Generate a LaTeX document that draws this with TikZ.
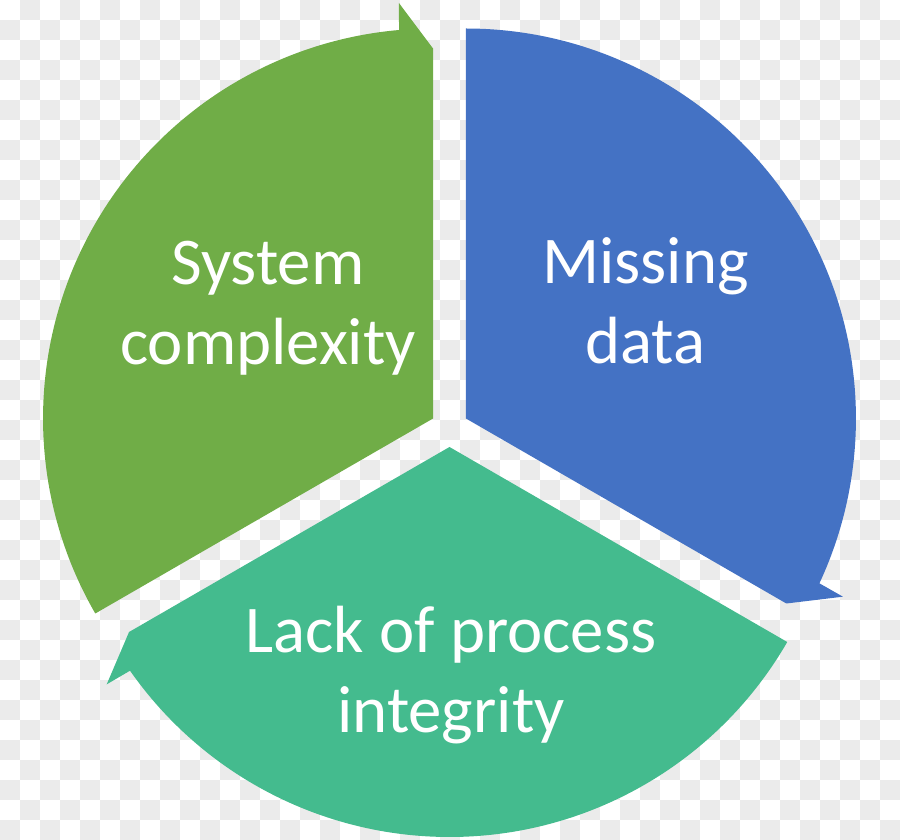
\documentclass[tikz,border=0pt]{standalone}
\usepackage{fontspec}
\setmainfont{Carlito}
\definecolor{cgreen}{HTML}{70AD47}
\definecolor{cblue}{HTML}{4472C4}
\definecolor{cteal}{HTML}{44BB8E}
\definecolor{cchk}{HTML}{EBEBEB}
\tikzset{
  label/.style={text=white, align=center, font=\fontsize{19}{22.8}\selectfont}
}
\begin{document}
\begin{tikzpicture}
\def\rad{3.9}
\def\off{0.19}
\useasboundingbox (-4.495,-4.12) rectangle (4.505,4.28);
% background squares
\begin{scope}[shift={(-4.495,4.28)}]
\clip (0,0) rectangle (9,-8.4);
\foreach \j in {0,...,41} {
  \pgfmathtruncatemacro\s{mod(\j+1,2)}
  \foreach \k in {0,...,22} {
    \fill[cchk] (0.4*\k + 0.2*\s, -0.2*\j) rectangle ++(0.2,-0.2);
  }
}
\end{scope}

% pieces
\foreach \bis/\a/\col in {30/90/cblue, 150/210/cgreen, 270/330/cteal} {
  \begin{scope}[shift={(\bis:\off)}]
  \fill[\col] (0,0) -- (\a:\rad) arc[start angle=\a, end angle=\a-115, radius=\rad]
    -- (\a-115.3:4.17) -- (\a-120:3.7) -- cycle;
  \end{scope}
}

% labels
\node[label] (sys) at (-1.815, 1.2) {System\\complexity};
\node[label] (mis) at (1.96, 1.27) {Missing\\data};
\node[label] (lack) at (0.015, -2.47) {Lack of process\\integrity};
\end{tikzpicture}
\end{document}
